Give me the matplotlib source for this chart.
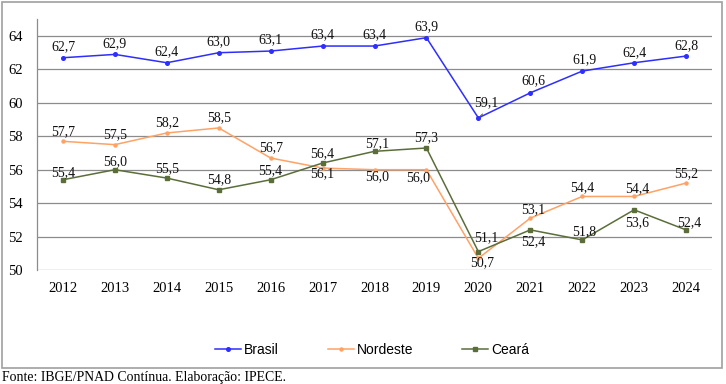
import matplotlib
matplotlib.use("Agg")
import matplotlib.pyplot as plt
from matplotlib.patches import Rectangle

years = ["2012", "2013", "2014", "2015", "2016", "2017", "2018", "2019", "2020", "2021", "2022", "2023", "2024"]
brasil = [62.7, 62.9, 62.4, 63.0, 63.1, 63.4, 63.4, 63.9, 59.1, 60.6, 61.9, 62.4, 62.8]
nordeste = [57.7, 57.5, 58.2, 58.5, 56.7, 56.1, 56.0, 56.0, 50.7, 53.1, 54.4, 54.4, 55.2]
ceara = [55.4, 56.0, 55.5, 54.8, 55.4, 56.4, 57.1, 57.3, 51.1, 52.4, 51.8, 53.6, 52.4]
yticks = [50, 52, 54, 56, 58, 60, 62, 64]

# label offsets in pixels (dx, dy up-positive)
off_b = [(0, 11)] * 8 + [(8, 15), (3, 12), (2, 11), (0, 10), (0, 10)]
off_n = [(0, 10), (0, 10), (0, 10), (0, 10), (0, 10), (0, -6), (3, -7), (-8, -8),
         (4, -4), (3, 9), (0, 9), (3, 8), (0, 9)]
off_c = [(0, 7), (0, 8), (0, 9), (0, 10), (0, 9), (0, 9), (3, 8), (0, 10),
         (8, 14), (3, -12), (2, 8), (3, -13), (3, 7)]

W, H = 726, 384
fig = plt.figure(figsize=(W / 100, H / 100), dpi=100)
ax = fig.add_axes([37 / W, 1 - 270 / H, (712 - 37) / W, (270 - 19.3) / H])

serif = "Liberation Serif"
sans = "Liberation Sans"
x = list(range(len(years)))

cb, cn, cc = "#2E2EFF", "#FFA266", "#5B6E3A"
ax.plot(x, brasil, color=cb, lw=1.1, marker="o", ms=2.6, label="Brasil")
ax.plot(x, nordeste, color=cn, lw=1.1, marker="o", ms=2.2, label="Nordeste")
ax.plot(x, ceara, color=cc, lw=1.1, marker="s", ms=3.2, label="Ceará")

def lab(vals, offs):
    for i, (v, (dx, dy)) in enumerate(zip(vals, offs)):
        ax.annotate(f"{v:.1f}".replace(".", ","), (i, v),
                    xytext=(dx * 0.72, dy * 0.72), textcoords="offset points",
                    ha="center", va="center", fontsize=10, family=serif, color="#111111")

lab(brasil, off_b)
lab(nordeste, off_n)
lab(ceara, off_c)
# leader line for 2020 Brasil
ax.annotate("", xy=(8, 59.1), xytext=(8.12, 59.45),
            arrowprops=dict(arrowstyle="-", color="#555555", lw=0.7))

ax.set_xlim(-0.5, len(years) - 0.5)
ax.set_ylim(50, 65)
ax.set_yticks(yticks)
ax.set_yticklabels([str(t) for t in yticks], family=serif, fontsize=10.5)
ax.set_xticks(x)
ax.set_xticklabels(years, family=serif, fontsize=10.5)
ax.tick_params(axis="both", length=0)
ax.tick_params(axis="y", pad=10)
ax.tick_params(axis="x", pad=9)
ax.grid(axis="y", color="#8C8C8C", lw=0.9)
ax.set_axisbelow(True)
for s in ["top", "right", "bottom"]:
    ax.spines[s].set_visible(False)
ax.spines["left"].set_color("#8C8C8C")
ax.spines["left"].set_linewidth(0.9)

leg = fig.legend(loc="center", bbox_to_anchor=(372 / W, 1 - 350 / H), ncol=3, frameon=False,
                 prop={"family": sans, "size": 10}, handlelength=1.9, handletextpad=0.2,
                 columnspacing=3.5)

fig.patches.append(Rectangle((2 / W, 1 - 368 / H), 720 / W, 366 / H, transform=fig.transFigure,
                             fill=False, edgecolor="#A0A0A0", lw=1.2))
fig.text(2 / W, 1 - 377 / H, "Fonte: IBGE/PNAD Contínua. Elaboração: IPECE.", family=serif,
         fontsize=9.9, ha="left", va="center")

fig.savefig("out.png", dpi=100)
